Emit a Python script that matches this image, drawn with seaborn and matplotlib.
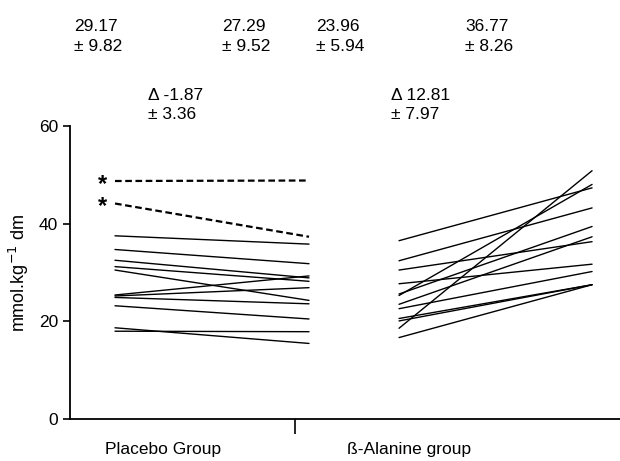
import pandas as pd
import seaborn as sns
import matplotlib.pyplot as plt

# Values (mmol.kg-1 dm), pre -> post for each subject
placebo_pre = [37.5, 34.7, 32.5, 31.2, 30.5, 25.4, 25.2, 24.9, 23.2, 18.7, 18.0]
placebo_post = [35.8, 31.8, 28.9, 28.2, 24.3, 29.3, 26.9, 23.6, 20.5, 15.5, 17.9]
# two placebo subjects drawn dashed and marked with *
placebo_flag_pre = [48.7, 44.1]
placebo_flag_post = [48.8, 37.3]
beta_pre = [36.5, 32.4, 30.5, 27.7, 25.3, 25.6, 23.5, 22.6, 20.6, 20.1, 18.6, 16.7]
beta_post = [47.3, 43.2, 36.3, 31.7, 48.0, 39.4, 37.3, 30.2, 27.5, 27.5, 50.8, 27.5]

group_labels = ['Placebo Group', 'ß-Alanine group']
mean_text = ['29.17\n± 9.82', '27.29\n± 9.52', '23.96\n± 5.94', '36.77\n± 8.26']
delta_text = ['Δ -1.87\n± 3.36', 'Δ 12.81\n± 7.97']

# x position of each measurement (pre, post) per group
xpos = {('placebo', 'pre'): 0.0, ('placebo', 'post'): 1.0,
        ('beta', 'pre'): 1.464, ('beta', 'post'): 2.459}


def to_long(pre, post, group, start_id):
    rows = []
    for i, (a, b) in enumerate(zip(pre, post)):
        rows.append({'subject': start_id + i, 'x': xpos[(group, 'pre')], 'value': a})
        rows.append({'subject': start_id + i, 'x': xpos[(group, 'post')], 'value': b})
    return rows


solid = pd.DataFrame(to_long(placebo_pre, placebo_post, 'placebo', 0)
                     + to_long(beta_pre, beta_post, 'beta', 100))
dashed = pd.DataFrame(to_long(placebo_flag_pre, placebo_flag_post, 'placebo', 200))

sns.set_style('ticks', {'text.color': 'black', 'axes.labelcolor': 'black',
                        'xtick.color': 'black', 'ytick.color': 'black',
                        'axes.edgecolor': 'black'})
plt.rcParams['font.family'] = ['Liberation Sans', 'DejaVu Sans']

fig = plt.figure(figsize=(6.2, 4.61), dpi=100)
ax = fig.add_axes([0.1129, 0.0905, 0.8871, 0.6368])

sns.lineplot(data=solid, x='x', y='value', units='subject', estimator=None,
             color='black', lw=1.0, ax=ax)
sns.lineplot(data=dashed, x='x', y='value', units='subject', estimator=None,
             color='black', lw=1.6, ax=ax)
for line in ax.lines[-2:]:
    line.set_dashes([3, 1.6])

# asterisks next to the dashed subjects
for v in placebo_flag_pre:
    ax.text(-0.067, v - 0.7, '*', ha='center', va='center', fontsize=17,
            fontweight='bold', color='black')

ax.set_xlim(-0.232, 2.603)
ax.set_ylim(0, 60)
ax.set_yticks([0, 20, 40, 60])
ax.tick_params(axis='y', labelsize=12.5, length=5, width=1.2, direction='out')
ax.set_xticks([0.928])
ax.set_xticklabels([''])
ax.tick_params(axis='x', which='major', length=11, width=1.2, direction='out')
ax.set_xticks([0.25, 1.515], group_labels, minor=True)
ax.tick_params(axis='x', which='minor', length=0, pad=16, labelsize=12.5)
ax.set_xlabel('')
ax.set_ylabel('mmol.kg$^{-1}$ dm', fontsize=13, labelpad=6)
sns.despine(ax=ax)
for s in ['left', 'bottom']:
    ax.spines[s].set_linewidth(1.3)

# mean +- sd above each time point, change below them
for x_px, t in zip([74, 222, 316, 465], mean_text):
    fig.text(x_px / 620, 1 - 36.5 / 461, t, ha='left', va='center',
             fontsize=12.5, linespacing=1.35, color='black')
for x_px, t in zip([148, 391], delta_text):
    fig.text(x_px / 620, 1 - 105 / 461, t, ha='left', va='center',
             fontsize=12.5, linespacing=1.35, color='black')

fig.savefig('out.png', dpi=100)
